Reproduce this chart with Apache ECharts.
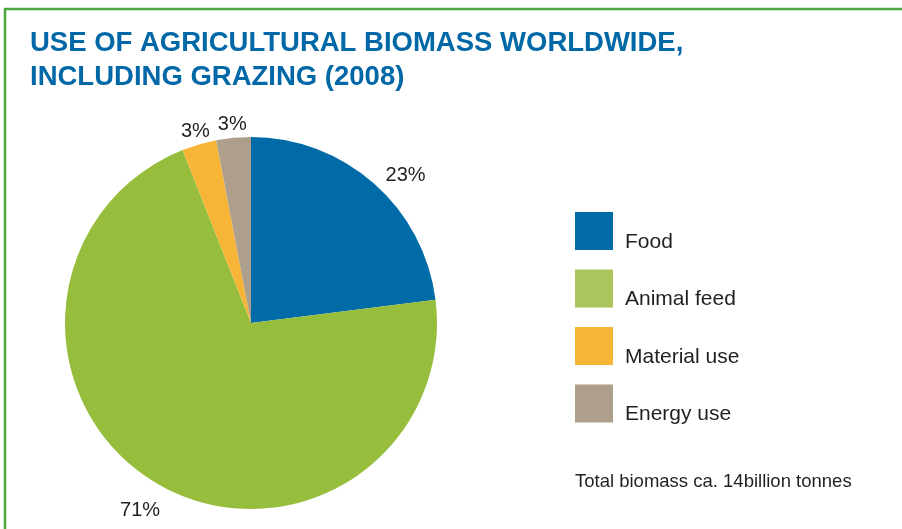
<!DOCTYPE html>
<html>
<head>
<meta charset="utf-8">
<script src="https://cdn.jsdelivr.net/npm/echarts@6/dist/echarts.min.js"></script>
<style>
html,body{margin:0;padding:0;background:#fff;}
#c{width:902px;height:529px;}
</style>
</head>
<body>
<div id="c"></div>
<script>
var categories = ['Food', 'Animal feed', 'Material use', 'Energy use'];
var shares = [23, 71, 3, 3];
var sliceColors = ['#006ba6', '#96be3c', '#f7b538', '#ae9f8c'];
var legendColors = ['#006ba6', '#abc45c', '#f7b538', '#ae9f8c'];
var titleText = 'USE OF AGRICULTURAL BIOMASS WORLDWIDE,\nINCLUDING GRAZING (2008)';
var noteText = 'Total biomass ca. 14billion tonnes';

var FONT = '"Liberation Sans", Arial, sans-serif';
var chart = echarts.init(document.getElementById('c'));

var CENTER = [251, 323];
var R = 186;

function labelRing(outer, showIdx) {
  return {
    type: 'pie',
    center: CENTER,
    radius: [R, outer],
    startAngle: 90,
    clockwise: true,
    silent: true,
    avoidLabelOverlap: false,
    legendHoverLink: false,
    data: categories.map(function (n, i) {
      return {
        name: n, value: shares[i],
        itemStyle: { color: 'rgba(0,0,0,0)' },
        label: { show: showIdx.indexOf(i) >= 0 }
      };
    }),
    itemStyle: { borderWidth: 0 },
    label: {
      position: 'inside',
      formatter: '{c}%',
      color: '#231f20', fontFamily: FONT, fontSize: 20
    },
    labelLine: { show: false },
    emphasis: { disabled: true }
  };
}

chart.setOption({
  animation: false,
  title: [{
    text: titleText,
    left: 25, top: 21,
    textStyle: { color: '#0068a6', fontFamily: FONT, fontWeight: 'bold', fontSize: 27.5, lineHeight: 34 }
  }, {
    text: noteText,
    left: 570, top: 467,
    textStyle: { color: '#231f20', fontFamily: FONT, fontWeight: 'normal', fontSize: 18.5 }
  }],
  legend: {
    orient: 'vertical',
    left: 570, top: 207,
    itemWidth: 38, itemHeight: 38, itemGap: 17,
    icon: 'rect',
    selectedMode: false,
    data: categories.map(function (n, i) {
      return { name: n, itemStyle: { color: legendColors[i] } };
    }),
    formatter: '{t|{name}}',
    textStyle: {
      color: '#231f20', fontFamily: FONT, fontSize: 21,
      rich: { t: { color: '#231f20', fontFamily: FONT, fontSize: 21, padding: [22, 0, 0, 7] } }
    }
  },
  graphic: [
    { type: 'line', shape: { x1: 4, y1: 9, x2: 902, y2: 9 }, style: { stroke: '#4aa83c', lineWidth: 2.5 } },
    { type: 'line', shape: { x1: 5, y1: 8, x2: 5, y2: 529 }, style: { stroke: '#4aa83c', lineWidth: 2.5 } }
  ],
  series: [{
    type: 'pie',
    center: CENTER,
    radius: R,
    startAngle: 90,
    clockwise: true,
    avoidLabelOverlap: false,
    data: categories.map(function (n, i) {
      return {
        name: n, value: shares[i],
        itemStyle: { color: sliceColors[i] },
        label: { show: i === 0 }
      };
    }),
    itemStyle: { borderWidth: 0 },
    label: {
      position: 'outside',
      formatter: '{c}%',
      color: '#231f20', fontFamily: FONT, fontSize: 20
    },
    labelLine: { show: false, length: 10, length2: 0 },
    emphasis: { disabled: true }
  },
  labelRing(244, [1]),
  labelRing(207, [2, 3])
  ]
});
</script>
</body>
</html>
